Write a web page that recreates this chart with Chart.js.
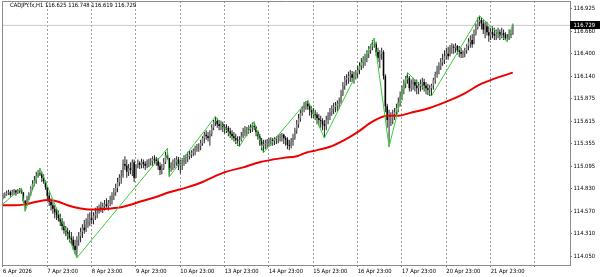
<!DOCTYPE html>
<html><head><meta charset="utf-8">
<script src="https://cdn.jsdelivr.net/npm/chart.js@4.4.1/dist/chart.umd.min.js"></script>
<style>html,body{margin:0;padding:0;background:#fff}#wrap{position:relative;width:600px;height:277px}</style>
</head><body><div id="wrap"><canvas id="c" width="600" height="277"></canvas></div>
<script>
const symbolTitle = "CADJPY.fx,H1 116.625 116.748 116.619 116.729";
const bidPrice = 116.729;
const firstOpen = 114.74;
const closes = [
114.75,114.77,114.78,114.79,114.76,114.79,114.81,114.78,114.81,114.82,
114.79,114.69,114.64,114.72,114.77,114.84,114.89,114.93,114.98,115.01,
115.00,114.96,114.92,114.85,114.75,114.68,114.64,114.60,114.56,114.53,
114.49,114.45,114.40,114.35,114.33,114.28,114.26,114.24,114.17,114.12,
114.24,114.28,114.33,114.38,114.35,114.42,114.45,114.49,114.47,114.52,
114.54,114.56,114.61,114.60,114.63,114.65,114.63,114.67,114.70,114.75,
114.79,114.84,114.91,114.96,114.98,115.12,115.10,115.03,115.07,115.05,
115.14,114.96,115.10,115.13,115.11,115.14,115.12,115.10,115.13,115.14,
115.15,115.18,115.17,115.15,115.10,115.05,115.07,115.14,115.22,115.19,
115.07,115.11,115.12,115.14,115.17,115.10,115.12,115.14,115.19,115.20,
115.21,115.23,115.25,115.27,115.30,115.32,115.33,115.36,115.42,115.46,
115.44,115.42,115.47,115.54,115.61,115.62,115.58,115.56,115.58,115.55,
115.53,115.54,115.50,115.47,115.44,115.42,115.40,115.39,115.40,115.44,
115.49,115.51,115.53,115.55,115.54,115.56,115.55,115.49,115.44,115.38,
115.33,115.35,115.36,115.38,115.39,115.40,115.39,115.41,115.42,115.43,
115.44,115.46,115.42,115.40,115.34,115.33,115.38,115.42,115.51,115.58,
115.65,115.71,115.77,115.80,115.82,115.79,115.75,115.72,115.70,115.69,
115.65,115.63,115.62,115.58,115.56,115.63,115.68,115.72,115.76,115.78,
115.80,115.82,115.84,115.93,116.03,116.10,116.12,116.14,116.16,116.12,
116.14,116.18,116.21,116.26,116.30,116.33,116.35,116.40,116.44,116.48,
116.51,116.51,116.42,116.35,116.40,116.42,116.14,115.79,115.63,115.65,
115.65,115.70,115.72,115.77,115.84,115.91,115.98,116.05,116.10,116.12,
116.00,116.05,116.07,116.03,116.00,116.03,116.05,116.07,116.03,116.00,
115.98,116.00,116.03,116.10,116.16,116.21,116.26,116.30,116.33,116.37,
116.40,116.37,116.47,116.48,116.47,116.49,116.44,116.42,116.40,116.42,
116.44,116.49,116.54,116.56,116.51,116.63,116.70,116.77,116.79,116.75,
116.68,116.72,116.65,116.61,116.65,116.63,116.61,116.63,116.65,116.61,
116.64,116.62,116.58,116.58,116.63,116.625,116.729];
const highs = [
114.78,114.79,114.81,114.82,114.81,114.82,114.83,114.82,114.83,114.84,
114.84,114.79,114.70,114.75,114.79,114.86,114.93,114.98,115.03,115.05,
115.07,115.03,115.00,114.93,114.86,114.79,114.72,114.68,114.64,114.61,
114.58,114.54,114.49,114.45,114.40,114.38,114.35,114.33,114.28,114.24,
114.28,114.33,114.38,114.42,114.47,114.49,114.54,114.56,114.58,114.56,
114.61,114.63,114.65,114.68,114.67,114.70,114.72,114.70,114.75,114.79,
114.84,114.89,114.96,115.00,115.05,115.17,115.21,115.17,115.12,115.14,
115.17,115.17,115.12,115.17,115.15,115.18,115.17,115.15,115.17,115.18,
115.19,115.21,115.22,115.20,115.19,115.14,115.12,115.19,115.26,115.30,
115.19,115.14,115.17,115.19,115.21,115.20,115.17,115.19,115.22,115.23,
115.26,115.28,115.28,115.30,115.33,115.35,115.36,115.40,115.44,115.49,
115.51,115.49,115.51,115.58,115.63,115.67,115.65,115.63,115.62,115.61,
115.58,115.58,115.56,115.54,115.51,115.49,115.47,115.44,115.44,115.49,
115.54,115.56,115.55,115.57,115.58,115.60,115.61,115.56,115.51,115.47,
115.42,115.40,115.40,115.41,115.42,115.43,115.42,115.43,115.44,115.46,
115.47,115.48,115.47,115.44,115.43,115.40,115.42,115.47,115.54,115.63,
115.70,115.75,115.79,115.84,115.85,115.86,115.82,115.79,115.77,115.75,
115.72,115.70,115.68,115.65,115.63,115.68,115.72,115.77,115.80,115.83,
115.84,115.86,115.89,115.98,116.07,116.14,116.16,116.19,116.21,116.20,
116.19,116.21,116.26,116.30,116.35,116.37,116.40,116.44,116.49,116.51,
116.56,116.58,116.54,116.47,116.44,116.47,116.44,116.16,115.82,115.75,
115.72,115.75,115.77,115.82,115.89,115.96,116.03,116.10,116.14,116.18,
116.14,116.10,116.12,116.10,116.10,116.07,116.10,116.12,116.11,116.07,
116.05,116.04,116.05,116.12,116.19,116.26,116.30,116.35,116.40,116.44,
116.47,116.48,116.50,116.52,116.51,116.52,116.50,116.49,116.47,116.44,
116.47,116.51,116.58,116.61,116.63,116.68,116.75,116.82,116.84,116.82,
116.79,116.77,116.77,116.72,116.70,116.72,116.70,116.68,116.70,116.68,
116.70,116.68,116.65,116.63,116.68,116.68,116.748];
const lows = [
114.71,114.72,114.75,114.76,114.74,114.75,114.76,114.75,114.77,114.78,
114.77,114.67,114.57,114.63,114.70,114.75,114.82,114.86,114.89,114.96,
114.98,114.91,114.89,114.82,114.70,114.63,114.58,114.54,114.49,114.47,
114.45,114.40,114.35,114.31,114.28,114.24,114.21,114.19,114.12,114.07,
114.03,114.17,114.21,114.26,114.31,114.33,114.38,114.40,114.42,114.42,
114.47,114.49,114.54,114.56,114.55,114.58,114.61,114.58,114.63,114.65,
114.70,114.75,114.79,114.86,114.89,114.96,115.05,114.96,114.98,115.00,
114.98,114.91,114.96,115.07,115.06,115.07,115.07,115.05,115.07,115.08,
115.10,115.10,115.12,115.10,115.05,114.99,115.00,115.05,115.12,115.17,
114.97,115.03,115.05,115.07,115.10,115.05,115.01,115.05,115.10,115.12,
115.14,115.17,115.19,115.21,115.22,115.26,115.26,115.28,115.33,115.36,
115.40,115.38,115.33,115.44,115.51,115.56,115.54,115.51,115.51,115.49,
115.47,115.48,115.44,115.42,115.40,115.38,115.35,115.33,115.32,115.38,
115.42,115.44,115.44,115.47,115.48,115.49,115.51,115.44,115.40,115.33,
115.28,115.25,115.29,115.30,115.32,115.33,115.33,115.34,115.35,115.36,
115.38,115.38,115.35,115.33,115.29,115.28,115.30,115.33,115.40,115.47,
115.54,115.61,115.68,115.72,115.75,115.75,115.68,115.65,115.65,115.63,
115.58,115.56,115.54,115.51,115.42,115.51,115.58,115.63,115.68,115.70,
115.72,115.73,115.76,115.82,115.91,115.98,116.03,116.05,116.07,116.07,
116.05,116.10,116.12,116.16,116.21,116.23,116.26,116.30,116.35,116.40,
116.44,116.47,116.37,116.30,116.23,116.33,116.10,115.72,115.54,115.32,
115.56,115.58,115.63,115.68,115.72,115.79,115.86,115.93,116.00,116.05,
115.96,115.96,115.98,115.96,115.93,115.93,115.96,115.98,115.96,115.93,
115.92,115.91,115.91,115.98,116.05,116.12,116.16,116.21,116.26,116.28,
116.33,116.33,116.37,116.40,116.40,116.41,116.39,116.36,116.35,116.35,
116.36,116.40,116.44,116.47,116.47,116.51,116.61,116.68,116.72,116.68,
116.63,116.58,116.61,116.54,116.56,116.58,116.56,116.56,116.58,116.56,
116.58,116.56,116.56,116.54,116.56,116.58,116.619];
const maIdx = [-1,6,12,18,25,30,35,40,43,48,52,56,62,68,74,82,90,100,108,114,121,130,139,146,152,159,164,168,177,185,192,200,208,214,220,231,242,250,258,266,276];
const maVal = [114.64,114.64,114.65,114.68,114.70,114.68,114.64,114.61,114.60,114.59,114.59,114.60,114.61,114.64,114.68,114.73,114.79,114.85,114.91,114.97,115.03,115.08,115.14,115.17,115.19,115.21,115.25,115.27,115.32,115.40,115.49,115.61,115.68,115.68,115.71,115.77,115.86,115.94,116.04,116.11,116.18];
const zzIdx = [-3,10,12,20,40,89,90,115,128,136,141,165,174,201,209,219,232,258,273,276];
const zzVal = [114.60,114.84,114.57,115.07,114.03,115.30,114.97,115.67,115.32,115.61,115.25,115.86,115.42,116.58,115.32,116.18,115.91,116.84,116.54,116.748];
const xTickIdx = [0,24,48,72,96,120,144,168,192,216,240,264,288];
const xTickLabels = ["6 Apr 2026","7 Apr 23:00","8 Apr 23:00","9 Apr 23:00","10 Apr 23:00","13 Apr 23:00","14 Apr 23:00","15 Apr 23:00","16 Apr 23:00","17 Apr 23:00","20 Apr 23:00","21 Apr 23:00",""];
const yTickLabels = [116.925,116.660,116.400,116.140,115.875,115.615,115.355,115.095,114.830,114.570,114.310,114.050];

const X_MIN = -0.541, X_MAX = 306.96, Y_MIN = 113.946, Y_MAX = 117.012;
const FONT = "'DejaVu Sans Condensed','Liberation Sans',sans-serif";
const FS = 5.8;

const opens = closes.map((c, i) => i === 0 ? firstOpen : closes[i - 1]);
const wicks = closes.map((c, i) => ({x: i, y: [Math.min(lows[i], opens[i], c), Math.max(highs[i], opens[i], c)]}));
const bodies = closes.map((c, i) => ({x: i, y: [opens[i], c]}));
const maData = maIdx.map((x, k) => ({x, y: maVal[k]}));
const zzData = zzIdx.map((x, k) => ({x, y: zzVal[k]}));

const overlay = {
  id: 'overlay',
  afterDraw(chart) {
    const {ctx, chartArea: a, scales: {y}} = chart;
    ctx.save();
    ctx.strokeStyle = '#8c8c8c'; ctx.lineWidth = 1;
    ctx.beginPath();
    ctx.moveTo(a.left + 0.5, a.bottom); ctx.lineTo(a.left + 0.5, a.top + 0.5); ctx.lineTo(a.right, a.top + 0.5);
    ctx.stroke();
    const py = y.getPixelForValue(bidPrice);
    ctx.fillStyle = '#000';
    ctx.fillRect(a.right, Math.round(py) - 4, chart.width - a.right, 8);
    ctx.font = FS + 'px ' + FONT; ctx.textBaseline = 'middle'; ctx.textAlign = 'left';
    ctx.fillStyle = '#fff';
    ctx.fillText(bidPrice.toFixed(3), a.right + 3.5, Math.round(py));
    ctx.fillStyle = '#000';
    ctx.fillText(symbolTitle, 10, 5.5);
    ctx.restore();
  }
};

new Chart(document.getElementById('c'), {
  type: 'line',
  data: {datasets: [
    {type: 'line', data: [{x: X_MIN, y: bidPrice}, {x: X_MAX, y: bidPrice}], borderColor: '#c8c8c8', borderWidth: 1, pointRadius: 0, order: 6},
    {type: 'bar', data: wicks, backgroundColor: '#222', barThickness: 1, grouped: false, inflateAmount: 0, borderWidth: 0, order: 5},
    {type: 'bar', data: bodies, backgroundColor: c => { const d = c.raw; return d && d.y[1] >= d.y[0] ? '#808080' : '#000'; }, barThickness: 1.6, grouped: false, inflateAmount: 0, borderWidth: 0, order: 4},
    {type: 'line', data: maData, borderColor: '#ee0000', borderWidth: 2, pointRadius: 0, cubicInterpolationMode: 'monotone', order: 2},
    {type: 'line', data: zzData, borderColor: '#3ccc3c', borderWidth: 1, pointRadius: 0, order: 1}
  ]},
  options: {
    responsive: false, animation: false, devicePixelRatio: 1,
    layout: {padding: {left: 2, top: 1, right: 0, bottom: 0}},
    plugins: {legend: {display: false}, tooltip: {enabled: false}, title: {display: false}},
    font: {family: FONT},
    scales: {
      x: {
        type: 'linear', min: X_MIN, max: X_MAX, offset: false,
        afterBuildTicks: s => { s.ticks = xTickIdx.map(v => ({value: v})); },
        afterFit: s => { s.height = 12; s.paddingLeft = 0; s.paddingRight = 0; },
        grid: {offset: false, color: '#9a9a9a', lineWidth: 1, drawTicks: true, tickLength: 2, tickColor: '#707070', tickBorderDash: []},
        border: {display: true, color: '#8c8c8c', dash: [2, 2]},
        ticks: {autoSkip: false, maxRotation: 0, minRotation: 0, align: 'start', padding: 1, color: '#000',
          font: {size: FS, family: FONT}, callback: v => { const k = xTickIdx.indexOf(v); return k >= 0 ? xTickLabels[k] : ''; }}
      },
      y: {
        type: 'linear', position: 'right', min: Y_MIN, max: Y_MAX, beginAtZero: false,
        afterBuildTicks: s => { s.ticks = yTickLabels.map(v => ({value: v})); },
        afterFit: s => { s.width = 30; s.paddingTop = 0; s.paddingBottom = 0; },
        grid: {drawOnChartArea: false, drawTicks: true, tickLength: 2, tickColor: '#707070'},
        border: {display: true, color: '#8c8c8c'},
        ticks: {autoSkip: false, padding: 1.5, color: '#000', font: {size: FS, family: FONT}, callback: v => Number(v).toFixed(3)}
      }
    }
  },
  plugins: [overlay]
});
</script></body></html>
